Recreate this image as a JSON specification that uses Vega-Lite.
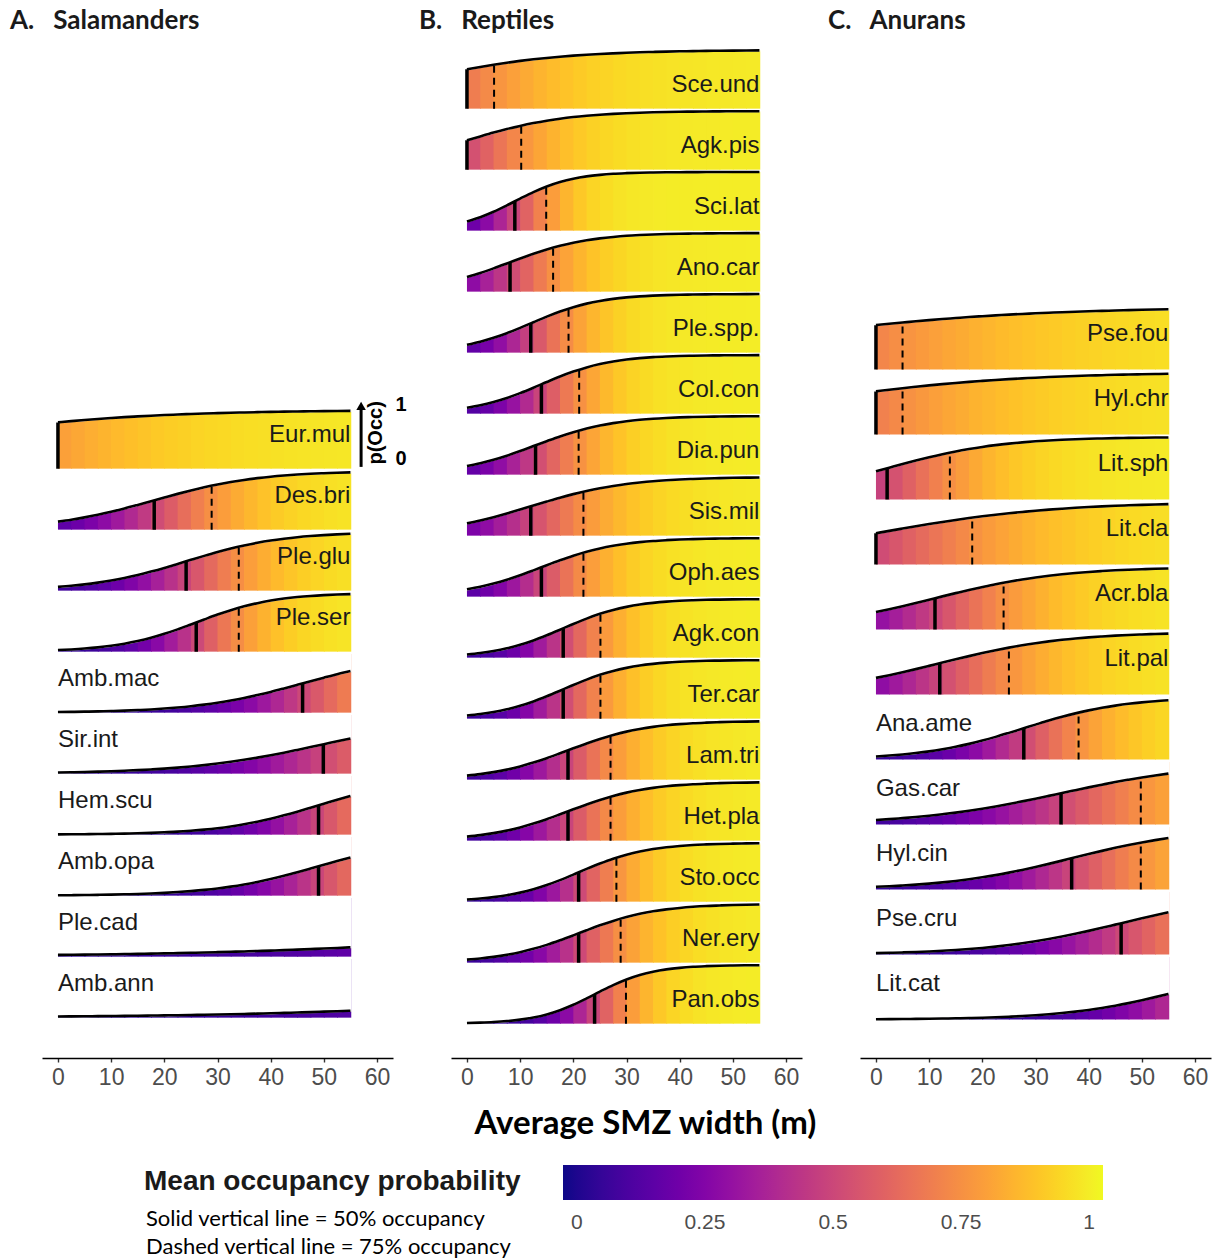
{
"$schema": "https://vega.github.io/schema/vega-lite/v6.json",
"padding": {"left": 10, "top": 8, "right": 0, "bottom": 0},
"background": "white",
"spacing": 9,
"config": {
  "view": {"stroke": null},
  "axisX": {"domainColor": "#000", "domainWidth": 1.6, "tickColor": "#333", "tickWidth": 1.4, "tickSize": 4, "labelFontSize": 23, "labelColor": "#4d4d4d", "labelFont": "Liberation Sans", "labelPadding": 4, "grid": false, "titleFont": "Lato", "titleFontSize": 33, "titleFontWeight": "bold", "titleColor": "#000"},
  "title": {"font": "Lato", "fontSize": 26, "fontWeight": "bold", "color": "#1a1a1a", "anchor": "start", "offset": 6},
  "text": {"font": "Liberation Sans"}
},
"hconcat": [
{
 "title": {"text": "A.\u00a0\u00a0\u00a0Salamanders", "dx": -32},
 "spacing": 0,
 "bounds": "flush",
 "vconcat": [
  {"width": 368, "height": 370, "view": {"fill": "white", "stroke": null}, "data": {"values": []}, "mark": {"type": "point", "opacity": 0}},
  {
   "data": {"values": "s,k,x,p\nEur.mul,c,0,.789\nEur.mul,c,2.5,.810\nEur.mul,c,5,.829\nEur.mul,c,7.5,.847\nEur.mul,c,10,.863\nEur.mul,c,12.5,.878\nEur.mul,c,15,.891\nEur.mul,c,17.5,.903\nEur.mul,c,20,.914\nEur.mul,c,22.5,.923\nEur.mul,c,25,.932\nEur.mul,c,27.5,.940\nEur.mul,c,30,.947\nEur.mul,c,32.5,.953\nEur.mul,c,35,.958\nEur.mul,c,37.5,.963\nEur.mul,c,40,.968\nEur.mul,c,42.5,.972\nEur.mul,c,45,.975\nEur.mul,c,47.5,.978\nEur.mul,c,50,.981\nEur.mul,c,52.5,.983\nEur.mul,c,55,.985\nDes.bri,c,0,.137\nDes.bri,c,2.5,.170\nDes.bri,c,5,.209\nDes.bri,c,7.5,.254\nDes.bri,c,10,.305\nDes.bri,c,12.5,.361\nDes.bri,c,15,.422\nDes.bri,c,17.5,.485\nDes.bri,c,20,.548\nDes.bri,c,22.5,.610\nDes.bri,c,25,.668\nDes.bri,c,27.5,.722\nDes.bri,c,30,.770\nDes.bri,c,32.5,.812\nDes.bri,c,35,.848\nDes.bri,c,37.5,.878\nDes.bri,c,40,.903\nDes.bri,c,42.5,.923\nDes.bri,c,45,.939\nDes.bri,c,47.5,.952\nDes.bri,c,50,.962\nDes.bri,c,52.5,.971\nDes.bri,c,55,.977\nPle.glu,c,0,.065\nPle.glu,c,2.5,.083\nPle.glu,c,5,.107\nPle.glu,c,7.5,.137\nPle.glu,c,10,.173\nPle.glu,c,12.5,.216\nPle.glu,c,15,.267\nPle.glu,c,17.5,.325\nPle.glu,c,20,.388\nPle.glu,c,22.5,.456\nPle.glu,c,25,.525\nPle.glu,c,27.5,.593\nPle.glu,c,30,.658\nPle.glu,c,32.5,.718\nPle.glu,c,35,.770\nPle.glu,c,37.5,.816\nPle.glu,c,40,.854\nPle.glu,c,42.5,.885\nPle.glu,c,45,.911\nPle.glu,c,47.5,.931\nPle.glu,c,50,.947\nPle.glu,c,52.5,.959\nPle.glu,c,55,.969\nPle.ser,c,0,.027\nPle.ser,c,2.5,.038\nPle.ser,c,5,.053\nPle.ser,c,7.5,.073\nPle.ser,c,10,.100\nPle.ser,c,12.5,.135\nPle.ser,c,15,.180\nPle.ser,c,17.5,.236\nPle.ser,c,20,.304\nPle.ser,c,22.5,.380\nPle.ser,c,25,.464\nPle.ser,c,27.5,.549\nPle.ser,c,30,.632\nPle.ser,c,32.5,.707\nPle.ser,c,35,.773\nPle.ser,c,37.5,.827\nPle.ser,c,40,.871\nPle.ser,c,42.5,.905\nPle.ser,c,45,.931\nPle.ser,c,47.5,.950\nPle.ser,c,50,.964\nPle.ser,c,52.5,.974\nPle.ser,c,55,.981\nAmb.mac,c,0,.010\nAmb.mac,c,2.5,.013\nAmb.mac,c,5,.017\nAmb.mac,c,7.5,.021\nAmb.mac,c,10,.027\nAmb.mac,c,12.5,.034\nAmb.mac,c,15,.044\nAmb.mac,c,17.5,.055\nAmb.mac,c,20,.070\nAmb.mac,c,22.5,.088\nAmb.mac,c,25,.110\nAmb.mac,c,27.5,.137\nAmb.mac,c,30,.169\nAmb.mac,c,32.5,.207\nAmb.mac,c,35,.250\nAmb.mac,c,37.5,.300\nAmb.mac,c,40,.354\nAmb.mac,c,42.5,.413\nAmb.mac,c,45,.474\nAmb.mac,c,47.5,.536\nAmb.mac,c,50,.597\nAmb.mac,c,52.5,.656\nAmb.mac,c,55,.709\nSir.int,c,0,.019\nSir.int,c,2.5,.023\nSir.int,c,5,.028\nSir.int,c,7.5,.034\nSir.int,c,10,.041\nSir.int,c,12.5,.050\nSir.int,c,15,.060\nSir.int,c,17.5,.072\nSir.int,c,20,.086\nSir.int,c,22.5,.103\nSir.int,c,25,.123\nSir.int,c,27.5,.146\nSir.int,c,30,.172\nSir.int,c,32.5,.202\nSir.int,c,35,.236\nSir.int,c,37.5,.273\nSir.int,c,40,.314\nSir.int,c,42.5,.358\nSir.int,c,45,.405\nSir.int,c,47.5,.453\nSir.int,c,50,.502\nSir.int,c,52.5,.552\nSir.int,c,55,.600\nHem.scu,c,0,.0045\nHem.scu,c,2.5,.006\nHem.scu,c,5,.008\nHem.scu,c,7.5,.010\nHem.scu,c,10,.014\nHem.scu,c,12.5,.018\nHem.scu,c,15,.023\nHem.scu,c,17.5,.030\nHem.scu,c,20,.040\nHem.scu,c,22.5,.051\nHem.scu,c,25,.067\nHem.scu,c,27.5,.086\nHem.scu,c,30,.110\nHem.scu,c,32.5,.140\nHem.scu,c,35,.177\nHem.scu,c,37.5,.220\nHem.scu,c,40,.271\nHem.scu,c,42.5,.329\nHem.scu,c,45,.392\nHem.scu,c,47.5,.459\nHem.scu,c,50,.527\nHem.scu,c,52.5,.595\nHem.scu,c,55,.659\nAmb.opa,c,0,.006\nAmb.opa,c,2.5,.008\nAmb.opa,c,5,.011\nAmb.opa,c,7.5,.014\nAmb.opa,c,10,.018\nAmb.opa,c,12.5,.023\nAmb.opa,c,15,.029\nAmb.opa,c,17.5,.037\nAmb.opa,c,20,.048\nAmb.opa,c,22.5,.061\nAmb.opa,c,25,.078\nAmb.opa,c,27.5,.098\nAmb.opa,c,30,.123\nAmb.opa,c,32.5,.154\nAmb.opa,c,35,.191\nAmb.opa,c,37.5,.234\nAmb.opa,c,40,.283\nAmb.opa,c,42.5,.338\nAmb.opa,c,45,.398\nAmb.opa,c,47.5,.461\nAmb.opa,c,50,.525\nAmb.opa,c,52.5,.589\nAmb.opa,c,55,.649\nPle.cad,c,0,.030\nPle.cad,c,2.5,.032\nPle.cad,c,5,.035\nPle.cad,c,7.5,.038\nPle.cad,c,10,.041\nPle.cad,c,12.5,.044\nPle.cad,c,15,.048\nPle.cad,c,17.5,.052\nPle.cad,c,20,.056\nPle.cad,c,22.5,.061\nPle.cad,c,25,.066\nPle.cad,c,27.5,.071\nPle.cad,c,30,.077\nPle.cad,c,32.5,.083\nPle.cad,c,35,.089\nPle.cad,c,37.5,.096\nPle.cad,c,40,.103\nPle.cad,c,42.5,.111\nPle.cad,c,45,.120\nPle.cad,c,47.5,.129\nPle.cad,c,50,.138\nPle.cad,c,52.5,.148\nPle.cad,c,55,.159\nAmb.ann,c,0,.020\nAmb.ann,c,2.5,.022\nAmb.ann,c,5,.023\nAmb.ann,c,7.5,.026\nAmb.ann,c,10,.028\nAmb.ann,c,12.5,.030\nAmb.ann,c,15,.033\nAmb.ann,c,17.5,.036\nAmb.ann,c,20,.039\nAmb.ann,c,22.5,.042\nAmb.ann,c,25,.046\nAmb.ann,c,27.5,.050\nAmb.ann,c,30,.054\nAmb.ann,c,32.5,.058\nAmb.ann,c,35,.063\nAmb.ann,c,37.5,.069\nAmb.ann,c,40,.074\nAmb.ann,c,42.5,.081\nAmb.ann,c,45,.087\nAmb.ann,c,47.5,.094\nAmb.ann,c,50,.102\nAmb.ann,c,52.5,.110\nAmb.ann,c,55,.119\nEur.mul,s,0,.789\nDes.bri,s,18.1,.5\nDes.bri,d,28.9,.75\nPle.glu,s,24.1,.5\nPle.glu,d,34,.75\nPle.ser,s,26,.5\nPle.ser,d,34,.75\nAmb.mac,s,46,.5\nSir.int,s,49.9,.5\nHem.scu,s,49,.5\nAmb.opa,s,49,.5\nEur.mul,R,0,0\nDes.bri,R,0,0\nPle.glu,R,0,0\nPle.ser,R,0,0\nAmb.mac,L,0,0\nSir.int,L,0,0\nHem.scu,L,0,0\nAmb.opa,L,0,0\nPle.cad,L,0,0\nAmb.ann,L,0,0\nEur.mul,Y,0,0", "format": {"type": "csv", "parse": {"x": "number", "p": "number"}}},
   "facet": {"row": {"field": "s", "type": "nominal", "sort": ["Eur.mul","Des.bri","Ple.glu","Ple.ser","Amb.mac","Sir.int","Hem.scu","Amb.opa","Ple.cad","Amb.ann"], "header": null}},
   "spacing": 0,
   "bounds": "flush",
   "spec": {
    "width": 351, "height": 61,
    "encoding": {
     "x": {"field": "x", "type": "quantitative", "scale": {"domain": [-3, 63], "nice": false, "zero": false}, "axis": {"values": [0,10,20,30,40,50,60], "title": null, "offset": 38}},
     "y": {"field": "p", "type": "quantitative", "scale": {"domain": [-0.04, 1], "nice": false, "zero": false}, "axis": null}
    },
    "layer": [
     {"transform": [{"filter": "datum.k=='c'"}, {"window": [{"op": "lead", "field": "x", "as": "xn"}, {"op": "mean", "field": "p", "as": "pm"}], "frame": [0, 1], "groupby": ["s"], "sort": [{"field": "x", "order": "ascending"}]}, {"filter": "datum.xn!=null"}],
      "mark": {"type": "rect", "x2Offset": 0.8},
      "encoding": {"x2": {"field": "xn"}, "y": {"datum": 0}, "y2": {"datum": 1},
       "color": {"field": "pm", "type": "quantitative", "scale": {"scheme": "plasma", "domain": [-0.027, 1.027]}, "legend": {"title": null, "orient": "none", "legendX": 521, "legendY": 1125, "direction": "horizontal", "gradientLength": 540, "gradientThickness": 35, "values": [0, 0.25, 0.5, 0.75, 1], "labelExpr": "''+datum.value", "labelFontSize": 21, "labelColor": "#4d4d4d", "labelFont": "Liberation Sans", "labelOffset": 12, "gradientStrokeWidth": 0}}}},
     {"transform": [{"filter": "datum.k=='c'"}], "mark": {"type": "area", "fill": "white", "stroke": "white", "strokeWidth": 2.2, "interpolate": "monotone"}, "encoding": {"y2": {"datum": 1}}},
     {"transform": [{"filter": "datum.k=='c'"}], "mark": {"type": "line", "color": "black", "strokeWidth": 2.6, "interpolate": "monotone"}, "encoding": {}},
     {"transform": [{"filter": "datum.k=='s'||datum.k=='d'"}], "mark": {"type": "rule", "color": "black"},
      "encoding": {"y": {"datum": 0}, "y2": {"field": "p"},
       "strokeDash": {"field": "k", "type": "nominal", "scale": {"domain": ["s", "d"], "range": [[1, 0], [7, 5]]}, "legend": {"title": "Mean occupancy probability", "orient": "none", "legendX": 102, "legendY": 1128, "titleFont": "Liberation Sans", "titleFontSize": 28, "titleFontWeight": "bold", "titleColor": "#1a1a1a", "titlePadding": 12, "titleLimit": 700, "labelFont": "Lato", "labelFontSize": 22, "labelColor": "#000", "labelLimit": 700, "labelOffset": -20, "symbolSize": 0, "symbolOpacity": 0, "symbolStrokeWidth": 0, "rowPadding": 6, "labelExpr": "datum.value=='s'?'Solid vertical line = 50% occupancy':'Dashed vertical line = 75% occupancy'"}},
       "strokeWidth": {"field": "k", "type": "ordinal", "scale": {"domain": ["s", "d"], "range": [3.5, 2]}, "legend": null}}},
     {"transform": [{"filter": "datum.k=='R'"}], "mark": {"type": "text", "align": "right", "baseline": "middle", "fontSize": 24, "color": "#1a1a1a"}, "encoding": {"x": {"datum": 55}, "y": {"datum": 0.58}, "text": {"field": "s"}}},
     {"transform": [{"filter": "datum.k=='L'"}], "mark": {"type": "text", "align": "left", "baseline": "middle", "fontSize": 24, "color": "#1a1a1a"}, "encoding": {"x": {"datum": 0}, "y": {"datum": 0.58}, "text": {"field": "s"}}},
     {"transform": [{"filter": "datum.k=='Y'"}], "mark": {"type": "rule", "color": "black", "strokeWidth": 3}, "encoding": {"x": {"datum": 57}, "y": {"datum": 0.03}, "y2": {"datum": 1.05}}},
     {"transform": [{"filter": "datum.k=='Y'"}], "mark": {"type": "point", "shape": "triangle-up", "size": 90, "filled": true, "color": "black", "opacity": 1}, "encoding": {"x": {"datum": 57}, "y": {"datum": 1.07}}},
     {"transform": [{"filter": "datum.k=='Y'"}], "mark": {"type": "text", "text": "1", "fontSize": 20, "fontWeight": "bold", "color": "#000", "baseline": "middle"}, "encoding": {"x": {"datum": 64.5}, "y": {"datum": 1.09}}},
     {"transform": [{"filter": "datum.k=='Y'"}], "mark": {"type": "text", "text": "0", "fontSize": 20, "fontWeight": "bold", "color": "#000", "baseline": "middle"}, "encoding": {"x": {"datum": 64.5}, "y": {"datum": 0.165}}},
     {"transform": [{"filter": "datum.k=='Y'"}], "mark": {"type": "text", "text": "p(Occ)", "fontSize": 20, "fontWeight": "bold", "color": "#000", "baseline": "middle", "angle": 270}, "encoding": {"x": {"datum": 59.8}, "y": {"datum": 0.61}}}
    ]
   }
  }
 ]
},
{
 "title": {"text": "B.\u00a0\u00a0\u00a0Reptiles", "dx": -32},
 "spacing": 0,
 "bounds": "flush",
 "vconcat": [
  {"width": 368, "height": 10, "view": {"fill": "white", "stroke": null}, "data": {"values": []}, "mark": {"type": "point", "opacity": 0}},
  {
   "data": {"values": "s,k,x,p\nSce.und,c,0,.670\nSce.und,c,2.5,.711\nSce.und,c,5,.749\nSce.und,c,7.5,.783\nSce.und,c,10,.814\nSce.und,c,12.5,.841\nSce.und,c,15,.865\nSce.und,c,17.5,.886\nSce.und,c,20,.904\nSce.und,c,22.5,.919\nSce.und,c,25,.932\nSce.und,c,27.5,.943\nSce.und,c,30,.953\nSce.und,c,32.5,.961\nSce.und,c,35,.967\nSce.und,c,37.5,.973\nSce.und,c,40,.978\nSce.und,c,42.5,.981\nSce.und,c,45,.985\nSce.und,c,47.5,.987\nSce.und,c,50,.989\nSce.und,c,52.5,.991\nSce.und,c,55,.993\nAgk.pis,c,0,.500\nAgk.pis,c,2.5,.567\nAgk.pis,c,5,.632\nAgk.pis,c,7.5,.692\nAgk.pis,c,10,.746\nAgk.pis,c,12.5,.794\nAgk.pis,c,15,.835\nAgk.pis,c,17.5,.869\nAgk.pis,c,20,.897\nAgk.pis,c,22.5,.919\nAgk.pis,c,25,.937\nAgk.pis,c,27.5,.951\nAgk.pis,c,30,.962\nAgk.pis,c,32.5,.971\nAgk.pis,c,35,.978\nAgk.pis,c,37.5,.983\nAgk.pis,c,40,.987\nAgk.pis,c,42.5,.990\nAgk.pis,c,45,.992\nAgk.pis,c,47.5,.994\nAgk.pis,c,50,.995\nAgk.pis,c,52.5,.997\nAgk.pis,c,55,.997\nSci.lat,c,0,.158\nSci.lat,c,2.5,.230\nSci.lat,c,5,.322\nSci.lat,c,7.5,.431\nSci.lat,c,10,.546\nSci.lat,c,12.5,.657\nSci.lat,c,15,.753\nSci.lat,c,17.5,.829\nSci.lat,c,20,.886\nSci.lat,c,22.5,.925\nSci.lat,c,25,.951\nSci.lat,c,27.5,.969\nSci.lat,c,30,.980\nSci.lat,c,32.5,.988\nSci.lat,c,35,.992\nSci.lat,c,37.5,.995\nSci.lat,c,40,.997\nSci.lat,c,42.5,.998\nSci.lat,c,45,.999\nSci.lat,c,47.5,.999\nSci.lat,c,50,1\nSci.lat,c,52.5,1\nSci.lat,c,55,1\nAno.car,c,0,.250\nAno.car,c,2.5,.319\nAno.car,c,5,.397\nAno.car,c,7.5,.480\nAno.car,c,10,.565\nAno.car,c,12.5,.646\nAno.car,c,15,.719\nAno.car,c,17.5,.782\nAno.car,c,20,.835\nAno.car,c,22.5,.877\nAno.car,c,25,.909\nAno.car,c,27.5,.933\nAno.car,c,30,.952\nAno.car,c,32.5,.965\nAno.car,c,35,.975\nAno.car,c,37.5,.982\nAno.car,c,40,.987\nAno.car,c,42.5,.991\nAno.car,c,45,.993\nAno.car,c,47.5,.995\nAno.car,c,50,.997\nAno.car,c,52.5,.998\nAno.car,c,55,.998\nPle.spp.,c,0,.135\nPle.spp.,c,2.5,.187\nPle.spp.,c,5,.253\nPle.spp.,c,7.5,.332\nPle.spp.,c,10,.423\nPle.spp.,c,12.5,.519\nPle.spp.,c,15,.614\nPle.spp.,c,17.5,.701\nPle.spp.,c,20,.776\nPle.spp.,c,22.5,.836\nPle.spp.,c,25,.882\nPle.spp.,c,27.5,.917\nPle.spp.,c,30,.942\nPle.spp.,c,32.5,.960\nPle.spp.,c,35,.972\nPle.spp.,c,37.5,.981\nPle.spp.,c,40,.987\nPle.spp.,c,42.5,.991\nPle.spp.,c,45,.994\nPle.spp.,c,47.5,.996\nPle.spp.,c,50,.997\nPle.spp.,c,52.5,.998\nPle.spp.,c,55,.999\nCol.con,c,0,.102\nCol.con,c,2.5,.144\nCol.con,c,5,.199\nCol.con,c,7.5,.267\nCol.con,c,10,.350\nCol.con,c,12.5,.442\nCol.con,c,15,.539\nCol.con,c,17.5,.633\nCol.con,c,20,.717\nCol.con,c,22.5,.789\nCol.con,c,25,.846\nCol.con,c,27.5,.890\nCol.con,c,30,.923\nCol.con,c,32.5,.946\nCol.con,c,35,.963\nCol.con,c,37.5,.974\nCol.con,c,40,.982\nCol.con,c,42.5,.988\nCol.con,c,45,.992\nCol.con,c,47.5,.994\nCol.con,c,50,.996\nCol.con,c,52.5,.997\nCol.con,c,55,.998\nDia.pun,c,0,.147\nDia.pun,c,2.5,.196\nDia.pun,c,5,.255\nDia.pun,c,7.5,.324\nDia.pun,c,10,.403\nDia.pun,c,12.5,.487\nDia.pun,c,15,.571\nDia.pun,c,17.5,.652\nDia.pun,c,20,.724\nDia.pun,c,22.5,.787\nDia.pun,c,25,.838\nDia.pun,c,27.5,.879\nDia.pun,c,30,.911\nDia.pun,c,32.5,.935\nDia.pun,c,35,.953\nDia.pun,c,37.5,.966\nDia.pun,c,40,.976\nDia.pun,c,42.5,.982\nDia.pun,c,45,.987\nDia.pun,c,47.5,.991\nDia.pun,c,50,.994\nDia.pun,c,52.5,.995\nDia.pun,c,55,.997\nSis.mil,c,0,.209\nSis.mil,c,2.5,.258\nSis.mil,c,5,.315\nSis.mil,c,7.5,.378\nSis.mil,c,10,.445\nSis.mil,c,12.5,.514\nSis.mil,c,15,.582\nSis.mil,c,17.5,.648\nSis.mil,c,20,.708\nSis.mil,c,22.5,.762\nSis.mil,c,25,.809\nSis.mil,c,27.5,.848\nSis.mil,c,30,.881\nSis.mil,c,32.5,.907\nSis.mil,c,35,.928\nSis.mil,c,37.5,.944\nSis.mil,c,40,.957\nSis.mil,c,42.5,.967\nSis.mil,c,45,.975\nSis.mil,c,47.5,.981\nSis.mil,c,50,.986\nSis.mil,c,52.5,.989\nSis.mil,c,55,.992\nOph.aes,c,0,.125\nOph.aes,c,2.5,.168\nOph.aes,c,5,.223\nOph.aes,c,7.5,.288\nOph.aes,c,10,.364\nOph.aes,c,12.5,.448\nOph.aes,c,15,.535\nOph.aes,c,17.5,.619\nOph.aes,c,20,.697\nOph.aes,c,22.5,.765\nOph.aes,c,25,.822\nOph.aes,c,27.5,.867\nOph.aes,c,30,.902\nOph.aes,c,32.5,.929\nOph.aes,c,35,.949\nOph.aes,c,37.5,.963\nOph.aes,c,40,.974\nOph.aes,c,42.5,.981\nOph.aes,c,45,.987\nOph.aes,c,47.5,.991\nOph.aes,c,50,.993\nOph.aes,c,52.5,.995\nOph.aes,c,55,.997\nAgk.con,c,0,.055\nAgk.con,c,2.5,.079\nAgk.con,c,5,.113\nAgk.con,c,7.5,.159\nAgk.con,c,10,.219\nAgk.con,c,12.5,.293\nAgk.con,c,15,.381\nAgk.con,c,17.5,.476\nAgk.con,c,20,.574\nAgk.con,c,22.5,.666\nAgk.con,c,25,.747\nAgk.con,c,27.5,.814\nAgk.con,c,30,.866\nAgk.con,c,32.5,.906\nAgk.con,c,35,.934\nAgk.con,c,37.5,.955\nAgk.con,c,40,.969\nAgk.con,c,42.5,.979\nAgk.con,c,45,.986\nAgk.con,c,47.5,.990\nAgk.con,c,50,.993\nAgk.con,c,52.5,.995\nAgk.con,c,55,.997\nTer.car,c,0,.055\nTer.car,c,2.5,.079\nTer.car,c,5,.113\nTer.car,c,7.5,.159\nTer.car,c,10,.219\nTer.car,c,12.5,.293\nTer.car,c,15,.381\nTer.car,c,17.5,.476\nTer.car,c,20,.574\nTer.car,c,22.5,.666\nTer.car,c,25,.747\nTer.car,c,27.5,.814\nTer.car,c,30,.866\nTer.car,c,32.5,.906\nTer.car,c,35,.934\nTer.car,c,37.5,.955\nTer.car,c,40,.969\nTer.car,c,42.5,.979\nTer.car,c,45,.986\nTer.car,c,47.5,.990\nTer.car,c,50,.993\nTer.car,c,52.5,.995\nTer.car,c,55,.997\nLam.tri,c,0,.069\nLam.tri,c,2.5,.094\nLam.tri,c,5,.128\nLam.tri,c,7.5,.171\nLam.tri,c,10,.226\nLam.tri,c,12.5,.291\nLam.tri,c,15,.366\nLam.tri,c,17.5,.449\nLam.tri,c,20,.534\nLam.tri,c,22.5,.618\nLam.tri,c,25,.695\nLam.tri,c,27.5,.762\nLam.tri,c,30,.819\nLam.tri,c,32.5,.864\nLam.tri,c,35,.900\nLam.tri,c,37.5,.927\nLam.tri,c,40,.947\nLam.tri,c,42.5,.962\nLam.tri,c,45,.972\nLam.tri,c,47.5,.980\nLam.tri,c,50,.986\nLam.tri,c,52.5,.990\nLam.tri,c,55,.993\nHet.pla,c,0,.069\nHet.pla,c,2.5,.094\nHet.pla,c,5,.128\nHet.pla,c,7.5,.171\nHet.pla,c,10,.226\nHet.pla,c,12.5,.291\nHet.pla,c,15,.366\nHet.pla,c,17.5,.449\nHet.pla,c,20,.534\nHet.pla,c,22.5,.618\nHet.pla,c,25,.695\nHet.pla,c,27.5,.762\nHet.pla,c,30,.819\nHet.pla,c,32.5,.864\nHet.pla,c,35,.900\nHet.pla,c,37.5,.927\nHet.pla,c,40,.947\nHet.pla,c,42.5,.962\nHet.pla,c,45,.972\nHet.pla,c,47.5,.980\nHet.pla,c,50,.986\nHet.pla,c,52.5,.990\nHet.pla,c,55,.993\nSto.occ,c,0,.037\nSto.occ,c,2.5,.054\nSto.occ,c,5,.077\nSto.occ,c,7.5,.110\nSto.occ,c,10,.154\nSto.occ,c,12.5,.211\nSto.occ,c,15,.283\nSto.occ,c,17.5,.367\nSto.occ,c,20,.461\nSto.occ,c,22.5,.558\nSto.occ,c,25,.650\nSto.occ,c,27.5,.733\nSto.occ,c,30,.801\nSto.occ,c,32.5,.856\nSto.occ,c,35,.898\nSto.occ,c,37.5,.928\nSto.occ,c,40,.950\nSto.occ,c,42.5,.966\nSto.occ,c,45,.976\nSto.occ,c,47.5,.984\nSto.occ,c,50,.989\nSto.occ,c,52.5,.993\nSto.occ,c,55,.995\nNer.ery,c,0,.051\nNer.ery,c,2.5,.071\nNer.ery,c,5,.098\nNer.ery,c,7.5,.133\nNer.ery,c,10,.178\nNer.ery,c,12.5,.235\nNer.ery,c,15,.303\nNer.ery,c,17.5,.381\nNer.ery,c,20,.465\nNer.ery,c,22.5,.552\nNer.ery,c,25,.636\nNer.ery,c,27.5,.712\nNer.ery,c,30,.777\nNer.ery,c,32.5,.832\nNer.ery,c,35,.875\nNer.ery,c,37.5,.908\nNer.ery,c,40,.933\nNer.ery,c,42.5,.952\nNer.ery,c,45,.966\nNer.ery,c,47.5,.975\nNer.ery,c,50,.983\nNer.ery,c,52.5,.988\nNer.ery,c,55,.991\nPan.obs,c,0,.011\nPan.obs,c,2.5,.018\nPan.obs,c,5,.028\nPan.obs,c,7.5,.044\nPan.obs,c,10,.069\nPan.obs,c,12.5,.105\nPan.obs,c,15,.158\nPan.obs,c,17.5,.230\nPan.obs,c,20,.322\nPan.obs,c,22.5,.431\nPan.obs,c,25,.546\nPan.obs,c,27.5,.657\nPan.obs,c,30,.753\nPan.obs,c,32.5,.829\nPan.obs,c,35,.886\nPan.obs,c,37.5,.925\nPan.obs,c,40,.951\nPan.obs,c,42.5,.969\nPan.obs,c,45,.980\nPan.obs,c,47.5,.988\nPan.obs,c,50,.992\nPan.obs,c,52.5,.995\nPan.obs,c,55,.997\nSce.und,s,0,.670\nSce.und,d,5.1,.75\nAgk.pis,s,0,.5\nAgk.pis,d,10.2,.75\nSci.lat,s,9,.5\nSci.lat,d,14.9,.75\nAno.car,s,8.1,.5\nAno.car,d,16.2,.75\nPle.spp.,s,12,.5\nPle.spp.,d,19.1,.75\nCol.con,s,14,.5\nCol.con,d,21.1,.75\nDia.pun,s,12.9,.5\nDia.pun,d,21,.75\nSis.mil,s,12,.5\nSis.mil,d,21.9,.75\nOph.aes,s,14,.5\nOph.aes,d,21.9,.75\nAgk.con,s,18.1,.5\nAgk.con,d,25.1,.75\nTer.car,s,18.1,.5\nTer.car,d,25.1,.75\nLam.tri,s,19,.5\nLam.tri,d,27,.75\nHet.pla,s,19,.5\nHet.pla,d,27,.75\nSto.occ,s,21,.5\nSto.occ,d,28.1,.75\nNer.ery,s,21,.5\nNer.ery,d,28.9,.75\nPan.obs,s,24,.5\nPan.obs,d,29.9,.75\nSce.und,R,0,0\nAgk.pis,R,0,0\nSci.lat,R,0,0\nAno.car,R,0,0\nPle.spp.,R,0,0\nCol.con,R,0,0\nDia.pun,R,0,0\nSis.mil,R,0,0\nOph.aes,R,0,0\nAgk.con,R,0,0\nTer.car,R,0,0\nLam.tri,R,0,0\nHet.pla,R,0,0\nSto.occ,R,0,0\nNer.ery,R,0,0\nPan.obs,R,0,0", "format": {"type": "csv", "parse": {"x": "number", "p": "number"}}},
   "facet": {"row": {"field": "s", "type": "nominal", "sort": ["Sce.und","Agk.pis","Sci.lat","Ano.car","Ple.spp.","Col.con","Dia.pun","Sis.mil","Oph.aes","Agk.con","Ter.car","Lam.tri","Het.pla","Sto.occ","Ner.ery","Pan.obs"], "header": null}},
   "spacing": 0,
   "bounds": "flush",
   "spec": {
    "width": 351, "height": 61,
    "encoding": {
     "x": {"field": "x", "type": "quantitative", "scale": {"domain": [-3, 63], "nice": false, "zero": false}, "axis": {"values": [0,10,20,30,40,50,60], "title": "Average SMZ width (m)", "offset": 32, "titleX": 194, "titleY": 75, "titleAlign": "center", "titleBaseline": "alphabetic"}},
     "y": {"field": "p", "type": "quantitative", "scale": {"domain": [-0.04, 1], "nice": false, "zero": false}, "axis": null}
    },
    "layer": [
     {"transform": [{"filter": "datum.k=='c'"}, {"window": [{"op": "lead", "field": "x", "as": "xn"}, {"op": "mean", "field": "p", "as": "pm"}], "frame": [0, 1], "groupby": ["s"], "sort": [{"field": "x", "order": "ascending"}]}, {"filter": "datum.xn!=null"}],
      "mark": {"type": "rect", "x2Offset": 0.8},
      "encoding": {"x2": {"field": "xn"}, "y": {"datum": 0}, "y2": {"datum": 1},
       "color": {"field": "pm", "type": "quantitative", "scale": {"scheme": "plasma", "domain": [-0.027, 1.027]}, "legend": {"title": null, "orient": "none", "legendX": 521, "legendY": 1125, "direction": "horizontal", "gradientLength": 540, "gradientThickness": 35, "values": [0, 0.25, 0.5, 0.75, 1], "labelExpr": "''+datum.value", "labelFontSize": 21, "labelColor": "#4d4d4d", "labelFont": "Liberation Sans", "labelOffset": 12, "gradientStrokeWidth": 0}}}},
     {"transform": [{"filter": "datum.k=='c'"}], "mark": {"type": "area", "fill": "white", "stroke": "white", "strokeWidth": 2.2, "interpolate": "monotone"}, "encoding": {"y2": {"datum": 1}}},
     {"transform": [{"filter": "datum.k=='c'"}], "mark": {"type": "line", "color": "black", "strokeWidth": 2.6, "interpolate": "monotone"}, "encoding": {}},
     {"transform": [{"filter": "datum.k=='s'||datum.k=='d'"}], "mark": {"type": "rule", "color": "black"},
      "encoding": {"y": {"datum": 0}, "y2": {"field": "p"},
       "strokeDash": {"field": "k", "type": "nominal", "scale": {"domain": ["s", "d"], "range": [[1, 0], [7, 5]]}, "legend": {"title": "Mean occupancy probability", "orient": "none", "legendX": 102, "legendY": 1128, "titleFont": "Liberation Sans", "titleFontSize": 28, "titleFontWeight": "bold", "titleColor": "#1a1a1a", "titlePadding": 12, "titleLimit": 700, "labelFont": "Lato", "labelFontSize": 22, "labelColor": "#000", "labelLimit": 700, "labelOffset": -20, "symbolSize": 0, "symbolOpacity": 0, "symbolStrokeWidth": 0, "rowPadding": 6, "labelExpr": "datum.value=='s'?'Solid vertical line = 50% occupancy':'Dashed vertical line = 75% occupancy'"}},
       "strokeWidth": {"field": "k", "type": "ordinal", "scale": {"domain": ["s", "d"], "range": [3.5, 2]}, "legend": null}}},
     {"transform": [{"filter": "datum.k=='R'"}], "mark": {"type": "text", "align": "right", "baseline": "middle", "fontSize": 24, "color": "#1a1a1a"}, "encoding": {"x": {"datum": 55}, "y": {"datum": 0.41}, "text": {"field": "s"}}}
    ]
   }
  }
 ]
},
{
 "title": {"text": "C.\u00a0\u00a0\u00a0Anurans", "dx": -32},
 "spacing": 0,
 "bounds": "flush",
 "vconcat": [
  {"width": 368, "height": 267, "view": {"fill": "white", "stroke": null}, "data": {"values": []}, "mark": {"type": "point", "opacity": 0}},
  {
   "data": {"values": "s,k,x,p\nPse.fou,c,0,.710\nPse.fou,c,2.5,.732\nPse.fou,c,5,.752\nPse.fou,c,7.5,.772\nPse.fou,c,10,.790\nPse.fou,c,12.5,.807\nPse.fou,c,15,.823\nPse.fou,c,17.5,.839\nPse.fou,c,20,.853\nPse.fou,c,22.5,.866\nPse.fou,c,25,.878\nPse.fou,c,27.5,.889\nPse.fou,c,30,.899\nPse.fou,c,32.5,.908\nPse.fou,c,35,.917\nPse.fou,c,37.5,.925\nPse.fou,c,40,.932\nPse.fou,c,42.5,.938\nPse.fou,c,45,.944\nPse.fou,c,47.5,.950\nPse.fou,c,50,.955\nPse.fou,c,52.5,.959\nPse.fou,c,55,.963\nHyl.chr,c,0,.690\nHyl.chr,c,2.5,.716\nHyl.chr,c,5,.741\nHyl.chr,c,7.5,.764\nHyl.chr,c,10,.786\nHyl.chr,c,12.5,.806\nHyl.chr,c,15,.825\nHyl.chr,c,17.5,.842\nHyl.chr,c,20,.858\nHyl.chr,c,22.5,.873\nHyl.chr,c,25,.886\nHyl.chr,c,27.5,.898\nHyl.chr,c,30,.909\nHyl.chr,c,32.5,.919\nHyl.chr,c,35,.928\nHyl.chr,c,37.5,.936\nHyl.chr,c,40,.943\nHyl.chr,c,42.5,.949\nHyl.chr,c,45,.955\nHyl.chr,c,47.5,.960\nHyl.chr,c,50,.964\nHyl.chr,c,52.5,.968\nHyl.chr,c,55,.972\nLit.sph,c,0,.451\nLit.sph,c,2.5,.509\nLit.sph,c,5,.567\nLit.sph,c,7.5,.623\nLit.sph,c,10,.676\nLit.sph,c,12.5,.725\nLit.sph,c,15,.769\nLit.sph,c,17.5,.807\nLit.sph,c,20,.841\nLit.sph,c,22.5,.870\nLit.sph,c,25,.894\nLit.sph,c,27.5,.914\nLit.sph,c,30,.931\nLit.sph,c,32.5,.944\nLit.sph,c,35,.955\nLit.sph,c,37.5,.964\nLit.sph,c,40,.971\nLit.sph,c,42.5,.977\nLit.sph,c,45,.982\nLit.sph,c,47.5,.986\nLit.sph,c,50,.989\nLit.sph,c,52.5,.991\nLit.sph,c,55,.993\nLit.cla,c,0,.500\nLit.cla,c,2.5,.538\nLit.cla,c,5,.575\nLit.cla,c,7.5,.612\nLit.cla,c,10,.647\nLit.cla,c,12.5,.681\nLit.cla,c,15,.713\nLit.cla,c,17.5,.743\nLit.cla,c,20,.771\nLit.cla,c,22.5,.797\nLit.cla,c,25,.820\nLit.cla,c,27.5,.841\nLit.cla,c,30,.861\nLit.cla,c,32.5,.878\nLit.cla,c,35,.893\nLit.cla,c,37.5,.907\nLit.cla,c,40,.919\nLit.cla,c,42.5,.930\nLit.cla,c,45,.939\nLit.cla,c,47.5,.947\nLit.cla,c,50,.954\nLit.cla,c,52.5,.960\nLit.cla,c,55,.966\nAcr.bla,c,0,.280\nAcr.bla,c,2.5,.325\nAcr.bla,c,5,.373\nAcr.bla,c,7.5,.424\nAcr.bla,c,10,.477\nAcr.bla,c,12.5,.530\nAcr.bla,c,15,.582\nAcr.bla,c,17.5,.633\nAcr.bla,c,20,.680\nAcr.bla,c,22.5,.725\nAcr.bla,c,25,.765\nAcr.bla,c,27.5,.801\nAcr.bla,c,30,.833\nAcr.bla,c,32.5,.860\nAcr.bla,c,35,.884\nAcr.bla,c,37.5,.904\nAcr.bla,c,40,.921\nAcr.bla,c,42.5,.935\nAcr.bla,c,45,.947\nAcr.bla,c,47.5,.957\nAcr.bla,c,50,.965\nAcr.bla,c,52.5,.971\nAcr.bla,c,55,.977\nLit.pal,c,0,.266\nLit.pal,c,2.5,.309\nLit.pal,c,5,.356\nLit.pal,c,7.5,.406\nLit.pal,c,10,.458\nLit.pal,c,12.5,.511\nLit.pal,c,15,.563\nLit.pal,c,17.5,.614\nLit.pal,c,20,.663\nLit.pal,c,22.5,.708\nLit.pal,c,25,.750\nLit.pal,c,27.5,.788\nLit.pal,c,30,.821\nLit.pal,c,32.5,.850\nLit.pal,c,35,.875\nLit.pal,c,37.5,.896\nLit.pal,c,40,.914\nLit.pal,c,42.5,.929\nLit.pal,c,45,.942\nLit.pal,c,47.5,.953\nLit.pal,c,50,.961\nLit.pal,c,52.5,.968\nLit.pal,c,55,.974\nAna.ame,c,0,.049\nAna.ame,c,2.5,.063\nAna.ame,c,5,.081\nAna.ame,c,7.5,.103\nAna.ame,c,10,.130\nAna.ame,c,12.5,.164\nAna.ame,c,15,.203\nAna.ame,c,17.5,.250\nAna.ame,c,20,.303\nAna.ame,c,22.5,.362\nAna.ame,c,25,.426\nAna.ame,c,27.5,.492\nAna.ame,c,30,.558\nAna.ame,c,32.5,.623\nAna.ame,c,35,.683\nAna.ame,c,37.5,.738\nAna.ame,c,40,.786\nAna.ame,c,42.5,.828\nAna.ame,c,45,.862\nAna.ame,c,47.5,.891\nAna.ame,c,50,.914\nAna.ame,c,52.5,.933\nAna.ame,c,55,.948\nGas.car,c,0,.073\nGas.car,c,2.5,.086\nGas.car,c,5,.102\nGas.car,c,7.5,.119\nGas.car,c,10,.140\nGas.car,c,12.5,.164\nGas.car,c,15,.190\nGas.car,c,17.5,.220\nGas.car,c,20,.253\nGas.car,c,22.5,.289\nGas.car,c,25,.328\nGas.car,c,27.5,.370\nGas.car,c,30,.413\nGas.car,c,32.5,.458\nGas.car,c,35,.504\nGas.car,c,37.5,.549\nGas.car,c,40,.594\nGas.car,c,42.5,.637\nGas.car,c,45,.679\nGas.car,c,47.5,.717\nGas.car,c,50,.753\nGas.car,c,52.5,.785\nGas.car,c,55,.814\nHyl.cin,c,0,.043\nHyl.cin,c,2.5,.052\nHyl.cin,c,5,.064\nHyl.cin,c,7.5,.078\nHyl.cin,c,10,.094\nHyl.cin,c,12.5,.114\nHyl.cin,c,15,.137\nHyl.cin,c,17.5,.164\nHyl.cin,c,20,.195\nHyl.cin,c,22.5,.230\nHyl.cin,c,25,.270\nHyl.cin,c,27.5,.313\nHyl.cin,c,30,.360\nHyl.cin,c,32.5,.410\nHyl.cin,c,35,.462\nHyl.cin,c,37.5,.515\nHyl.cin,c,40,.567\nHyl.cin,c,42.5,.618\nHyl.cin,c,45,.667\nHyl.cin,c,47.5,.712\nHyl.cin,c,50,.753\nHyl.cin,c,52.5,.790\nHyl.cin,c,55,.823\nPse.cru,c,0,.022\nPse.cru,c,2.5,.027\nPse.cru,c,5,.033\nPse.cru,c,7.5,.040\nPse.cru,c,10,.049\nPse.cru,c,12.5,.060\nPse.cru,c,15,.072\nPse.cru,c,17.5,.087\nPse.cru,c,20,.105\nPse.cru,c,22.5,.126\nPse.cru,c,25,.151\nPse.cru,c,27.5,.179\nPse.cru,c,30,.211\nPse.cru,c,32.5,.247\nPse.cru,c,35,.287\nPse.cru,c,37.5,.331\nPse.cru,c,40,.378\nPse.cru,c,42.5,.427\nPse.cru,c,45,.478\nPse.cru,c,47.5,.529\nPse.cru,c,50,.579\nPse.cru,c,52.5,.628\nPse.cru,c,55,.675\nLit.cat,c,0,.005\nLit.cat,c,2.5,.006\nLit.cat,c,5,.008\nLit.cat,c,7.5,.010\nLit.cat,c,10,.012\nLit.cat,c,12.5,.015\nLit.cat,c,15,.019\nLit.cat,c,17.5,.023\nLit.cat,c,20,.029\nLit.cat,c,22.5,.036\nLit.cat,c,25,.045\nLit.cat,c,27.5,.055\nLit.cat,c,30,.068\nLit.cat,c,32.5,.084\nLit.cat,c,35,.103\nLit.cat,c,37.5,.126\nLit.cat,c,40,.153\nLit.cat,c,42.5,.185\nLit.cat,c,45,.221\nLit.cat,c,47.5,.262\nLit.cat,c,50,.308\nLit.cat,c,52.5,.358\nLit.cat,c,55,.411\nPse.fou,s,0,.710\nPse.fou,d,5,.752\nHyl.chr,s,0,.690\nHyl.chr,d,5,.741\nLit.sph,s,2.1,.5\nLit.sph,d,13.9,.75\nLit.cla,s,0,.5\nLit.cla,d,18.1,.75\nAcr.bla,s,11.1,.5\nAcr.bla,d,24,.75\nLit.pal,s,12,.5\nLit.pal,d,25,.75\nAna.ame,s,27.8,.5\nAna.ame,d,38.1,.75\nGas.car,s,34.8,.5\nGas.car,d,49.8,.75\nHyl.cin,s,36.8,.5\nHyl.cin,d,49.8,.75\nPse.cru,s,46.1,.5\nPse.fou,R,0,0\nHyl.chr,R,0,0\nLit.sph,R,0,0\nLit.cla,R,0,0\nAcr.bla,R,0,0\nLit.pal,R,0,0\nAna.ame,L,0,0\nGas.car,L,0,0\nHyl.cin,L,0,0\nPse.cru,L,0,0\nLit.cat,L,0,0", "format": {"type": "csv", "parse": {"x": "number", "p": "number"}}},
   "facet": {"row": {"field": "s", "type": "nominal", "sort": ["Pse.fou","Hyl.chr","Lit.sph","Lit.cla","Acr.bla","Lit.pal","Ana.ame","Gas.car","Hyl.cin","Pse.cru","Lit.cat"], "header": null}},
   "spacing": 0,
   "bounds": "flush",
   "spec": {
    "width": 351, "height": 65,
    "encoding": {
     "x": {"field": "x", "type": "quantitative", "scale": {"domain": [-3, 63], "nice": false, "zero": false}, "axis": {"values": [0,10,20,30,40,50,60], "title": null, "offset": 36}},
     "y": {"field": "p", "type": "quantitative", "scale": {"domain": [-0.04, 1], "nice": false, "zero": false}, "axis": null}
    },
    "layer": [
     {"transform": [{"filter": "datum.k=='c'"}, {"window": [{"op": "lead", "field": "x", "as": "xn"}, {"op": "mean", "field": "p", "as": "pm"}], "frame": [0, 1], "groupby": ["s"], "sort": [{"field": "x", "order": "ascending"}]}, {"filter": "datum.xn!=null"}],
      "mark": {"type": "rect", "x2Offset": 0.8},
      "encoding": {"x2": {"field": "xn"}, "y": {"datum": 0}, "y2": {"datum": 1},
       "color": {"field": "pm", "type": "quantitative", "scale": {"scheme": "plasma", "domain": [-0.027, 1.027]}, "legend": {"title": null, "orient": "none", "legendX": 521, "legendY": 1125, "direction": "horizontal", "gradientLength": 540, "gradientThickness": 35, "values": [0, 0.25, 0.5, 0.75, 1], "labelExpr": "''+datum.value", "labelFontSize": 21, "labelColor": "#4d4d4d", "labelFont": "Liberation Sans", "labelOffset": 12, "gradientStrokeWidth": 0}}}},
     {"transform": [{"filter": "datum.k=='c'"}], "mark": {"type": "area", "fill": "white", "stroke": "white", "strokeWidth": 2.2, "interpolate": "monotone"}, "encoding": {"y2": {"datum": 1}}},
     {"transform": [{"filter": "datum.k=='c'"}], "mark": {"type": "line", "color": "black", "strokeWidth": 2.6, "interpolate": "monotone"}, "encoding": {}},
     {"transform": [{"filter": "datum.k=='s'||datum.k=='d'"}], "mark": {"type": "rule", "color": "black"},
      "encoding": {"y": {"datum": 0}, "y2": {"field": "p"},
       "strokeDash": {"field": "k", "type": "nominal", "scale": {"domain": ["s", "d"], "range": [[1, 0], [7, 5]]}, "legend": {"title": "Mean occupancy probability", "orient": "none", "legendX": 102, "legendY": 1128, "titleFont": "Liberation Sans", "titleFontSize": 28, "titleFontWeight": "bold", "titleColor": "#1a1a1a", "titlePadding": 12, "titleLimit": 700, "labelFont": "Lato", "labelFontSize": 22, "labelColor": "#000", "labelLimit": 700, "labelOffset": -20, "symbolSize": 0, "symbolOpacity": 0, "symbolStrokeWidth": 0, "rowPadding": 6, "labelExpr": "datum.value=='s'?'Solid vertical line = 50% occupancy':'Dashed vertical line = 75% occupancy'"}},
       "strokeWidth": {"field": "k", "type": "ordinal", "scale": {"domain": ["s", "d"], "range": [3.5, 2]}, "legend": null}}},
     {"transform": [{"filter": "datum.k=='R'"}], "mark": {"type": "text", "align": "right", "baseline": "middle", "fontSize": 24, "color": "#1a1a1a"}, "encoding": {"x": {"datum": 55}, "y": {"datum": 0.57}, "text": {"field": "s"}}},
     {"transform": [{"filter": "datum.k=='L'"}], "mark": {"type": "text", "align": "left", "baseline": "middle", "fontSize": 24, "color": "#1a1a1a"}, "encoding": {"x": {"datum": 0}, "y": {"datum": 0.57}, "text": {"field": "s"}}}
    ]
   }
  }
 ]
}
]
}
